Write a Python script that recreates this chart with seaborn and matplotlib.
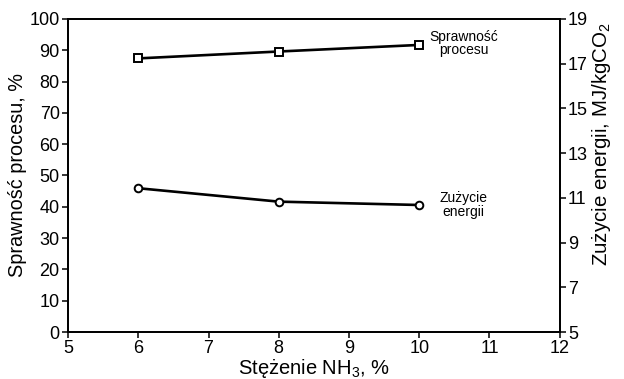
import matplotlib.pyplot as plt
import seaborn as sns
import pandas as pd

# data
stezenie = [6, 8, 10]
sprawnosc = [87.4, 89.6, 91.7]        # left axis, %
zuzycie = [11.43, 10.83, 10.68]       # right axis, MJ/kgCO2

sns.set_theme(style="ticks")
plt.rcParams["font.family"] = ["Liberation Sans", "DejaVu Sans"]
plt.rcParams["mathtext.fontset"] = "custom"
plt.rcParams["mathtext.rm"] = "Liberation Sans"
plt.rcParams["mathtext.it"] = "Liberation Sans:italic"
plt.rcParams["text.color"] = "black"
plt.rcParams["axes.labelcolor"] = "black"
plt.rcParams["axes.linewidth"] = 1.3
plt.rcParams["xtick.major.width"] = 1.1
plt.rcParams["ytick.major.width"] = 1.1
plt.rcParams["xtick.major.size"] = 4
plt.rcParams["ytick.major.size"] = 4

df = pd.DataFrame({"x": stezenie, "spr": sprawnosc, "zuz": zuzycie})

fig = plt.figure(figsize=(6.24, 3.79), dpi=100)
ax = fig.add_axes([0.109, 0.124, 0.788, 0.826])
ax2 = ax.twinx()

sns.lineplot(data=df, x="x", y="spr", ax=ax, color="black", linewidth=1.9,
             marker="s", markersize=5.5, markerfacecolor="white",
             markeredgecolor="black", markeredgewidth=1.4)
sns.lineplot(data=df, x="x", y="zuz", ax=ax2, color="black", linewidth=1.9,
             marker="o", markersize=5.5, markerfacecolor="white",
             markeredgecolor="black", markeredgewidth=1.4)

ax.set_xlim(5, 12)
ax.set_xticks(range(5, 13))
ax.set_ylim(0, 100)
ax.set_yticks(range(0, 101, 10))
ax2.set_ylim(5, 19)
ax2.set_yticks(range(5, 20, 2))

fs = 13
ax.tick_params(labelsize=fs, colors="black", pad=2)
ax2.tick_params(labelsize=fs, colors="black", pad=2)
ax.set_xlabel("Stężenie NH$_3$, %", fontsize=14.5, labelpad=0)
ax.set_ylabel("Sprawność procesu, %", fontsize=14.3, labelpad=2)
ax2.set_ylabel("Zużycie energii, MJ/kgCO$_2$", fontsize=14.8)
ax2.yaxis.set_label_coords(1.062, 0.6)

for s in ["left", "right", "top", "bottom"]:
    ax.spines[s].set_color("black")
    ax2.spines[s].set_color("black")

ax.annotate("Sprawność\nprocesu", (stezenie[-1], sprawnosc[-1]),
            xytext=(32, 1), textcoords="offset points", ha="center",
            va="center", fontsize=10, linespacing=0.95)
ax2.annotate("Zużycie\nenergii", (stezenie[-1], zuzycie[-1]),
             xytext=(32, 0), textcoords="offset points", ha="center",
             va="center", fontsize=10, linespacing=0.95)

fig.savefig("out.png", dpi=100)
